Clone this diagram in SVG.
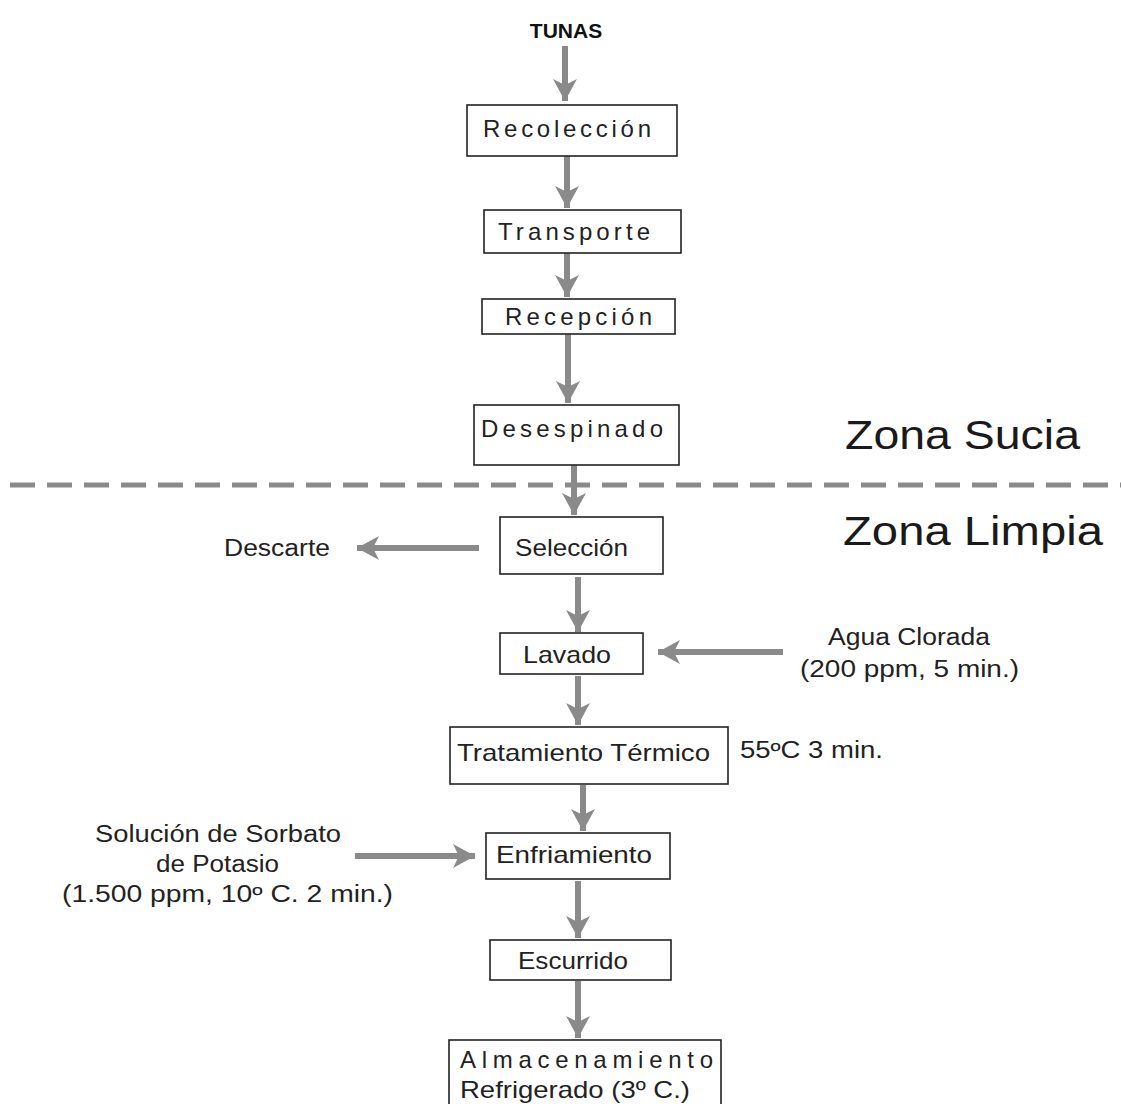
<svg xmlns="http://www.w3.org/2000/svg" width="1121" height="1104" viewBox="0 0 1121 1104">
<style>
.box{fill:#fff;stroke:#222;stroke-width:1.6}
.t{font-family:"Liberation Sans",Arial,sans-serif;font-size:24px;fill:#222}
.s{font-family:"Liberation Sans",Arial,sans-serif;font-size:23px;fill:#222}
.zone{font-family:"Liberation Sans",Arial,sans-serif;font-size:40px;fill:#1a1a1a}
.c{stroke:#8a8a8a;stroke-width:6;fill:none}
</style>
<defs>
<marker id="ah" markerUnits="userSpaceOnUse" markerWidth="26" markerHeight="26" refX="22" refY="13" orient="auto" viewBox="0 0 26 26">
<path d="M0,1 L22,13 L0,25 L6,13 Z" fill="#8a8a8a"/>
</marker>
</defs>
<rect width="1121" height="1104" fill="#fff"/>
<g id="connectors">
<line class="c" x1="565" y1="46" x2="565" y2="101" marker-end="url(#ah)"/>
<line class="c" x1="567" y1="156" x2="567" y2="208" marker-end="url(#ah)"/>
<line class="c" x1="567" y1="253" x2="567" y2="297" marker-end="url(#ah)"/>
<line class="c" x1="568" y1="334" x2="568" y2="403" marker-end="url(#ah)"/>
<line class="c" x1="574" y1="465" x2="574" y2="515" marker-end="url(#ah)"/>
<line class="c" x1="578" y1="577" x2="578" y2="632" marker-end="url(#ah)"/>
<line class="c" x1="578" y1="676" x2="578" y2="725" marker-end="url(#ah)"/>
<line class="c" x1="583" y1="785" x2="583" y2="831" marker-end="url(#ah)"/>
<line class="c" x1="578" y1="881" x2="578" y2="938" marker-end="url(#ah)"/>
<line class="c" x1="578" y1="981" x2="578" y2="1038" marker-end="url(#ah)"/>
<line class="c" x1="479" y1="548" x2="357" y2="548" marker-end="url(#ah)"/>
<line class="c" x1="783" y1="652" x2="658" y2="652" marker-end="url(#ah)"/>
<line class="c" x1="355" y1="856" x2="475" y2="856" marker-end="url(#ah)"/>
<line x1="10" y1="485" x2="1121" y2="485" stroke="#8a8a8a" stroke-width="5" stroke-dasharray="25 12"/>
</g>
<g id="tunas"><text x="566" y="38" text-anchor="middle" font-family="Liberation Sans,Arial,sans-serif" font-weight="bold" font-size="21" fill="#111">TUNAS</text></g>
<g id="recoleccion"><rect class="box" x="467" y="105" width="210" height="51"/><text class="t" x="483" y="137" textLength="168" lengthAdjust="spacing">Recolección</text></g>
<g id="transporte"><rect class="box" x="484" y="210" width="197" height="43"/><text class="t" x="498" y="240" textLength="152" lengthAdjust="spacing">Transporte</text></g>
<g id="recepcion"><rect class="box" x="482" y="299" width="193" height="35"/><text class="t" x="505" y="325" textLength="147" lengthAdjust="spacing">Recepción</text></g>
<g id="desespinado"><rect class="box" x="474" y="405" width="205" height="60"/><text class="t" x="481" y="437" textLength="182" lengthAdjust="spacing">Desespinado</text></g>
<g id="seleccion"><rect class="box" x="500" y="517" width="163" height="57"/><text class="t" x="515" y="556" textLength="113" lengthAdjust="spacingAndGlyphs">Selección</text></g>
<g id="lavado"><rect class="box" x="500" y="633" width="143" height="41"/><text class="t" x="523" y="663" textLength="88" lengthAdjust="spacingAndGlyphs">Lavado</text></g>
<g id="tratamiento"><rect class="box" x="450" y="727" width="278" height="57"/><text class="t" x="457" y="761" textLength="253" lengthAdjust="spacingAndGlyphs">Tratamiento Térmico</text></g>
<g id="enfriamiento"><rect class="box" x="486" y="833" width="184" height="46"/><text class="t" x="496" y="863" textLength="156" lengthAdjust="spacingAndGlyphs">Enfriamiento</text></g>
<g id="escurrido"><rect class="box" x="490" y="940" width="181" height="40"/><text class="t" x="518" y="969" textLength="110" lengthAdjust="spacingAndGlyphs">Escurrido</text></g>
<g id="almacenamiento"><rect class="box" x="449" y="1040" width="272" height="70"/><text class="t" x="460" y="1068" textLength="253" lengthAdjust="spacing">Almacenamiento</text><text class="t" x="460" y="1098" textLength="230" lengthAdjust="spacingAndGlyphs">Refrigerado (3º C.)</text></g>
<g id="descarte"><text class="s" x="224" y="556" textLength="106" lengthAdjust="spacingAndGlyphs">Descarte</text></g>
<g id="agua"><text class="s" x="828" y="645" textLength="162" lengthAdjust="spacingAndGlyphs">Agua Clorada</text><text class="s" x="800" y="677" textLength="219" lengthAdjust="spacingAndGlyphs">(200 ppm, 5 min.)</text></g>
<g id="temp"><text class="s" x="740" y="758" textLength="143" lengthAdjust="spacingAndGlyphs">55ºC 3 min.</text></g>
<g id="sorbato"><text class="s" x="95" y="842" textLength="246" lengthAdjust="spacingAndGlyphs">Solución de Sorbato</text><text class="s" x="156" y="872" textLength="123" lengthAdjust="spacingAndGlyphs">de Potasio</text><text class="s" x="62" y="902" textLength="331" lengthAdjust="spacingAndGlyphs">(1.500 ppm, 10º C. 2 min.)</text></g>
<g id="zona-sucia"><text class="zone" x="845" y="449" textLength="235" lengthAdjust="spacingAndGlyphs">Zona Sucia</text></g>
<g id="zona-limpia"><text class="zone" x="843" y="545" textLength="260" lengthAdjust="spacingAndGlyphs">Zona Limpia</text></g>
</svg>
